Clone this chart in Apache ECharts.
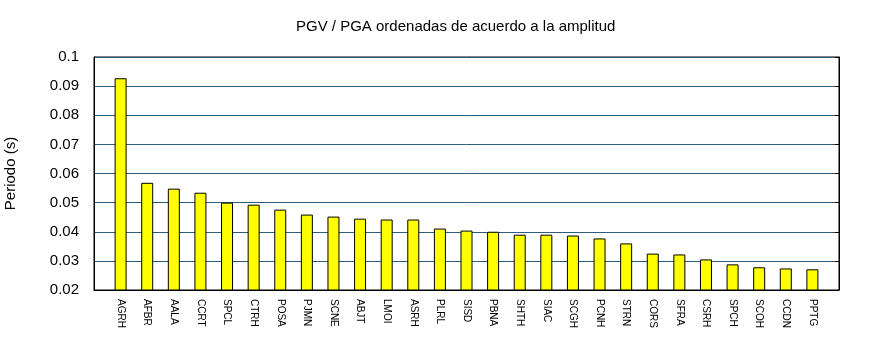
<!DOCTYPE html>
<html>
<head>
<meta charset="utf-8">
<script src="https://cdn.jsdelivr.net/npm/echarts@6/dist/echarts.min.js"></script>
<style>
  html, body { margin: 0; padding: 0; background: #fff; }
  #chart { width: 870px; height: 350px; }
</style>
</head>
<body>
<div id="chart"></div>
<script>
// Stations, ordered by amplitude
const stations = ['AGRH','AFBR','AALA','CCRT','SPCL','CTRH','POSA','PJMN','SCNE','ABJT',
  'LMOI','ASRH','PLRL','SISD','PBNA','SHTH','SIAC','SCGH','PCNH','STRN',
  'CORS','SFRA','CSRH','SPCH','SCOH','CCDN','PPTG'];

// PGV / PGA period (s)
const periods = [0.0927,0.0568,0.0548,0.0534,0.0500,0.0493,0.0476,0.0459,0.0452,0.0445,
  0.0442,0.0442,0.0411,0.0404,0.0400,0.0390,0.0390,0.0387,0.0377,0.0360,
  0.0325,0.0322,0.0305,0.0288,0.0278,0.0274,0.0271];

// Y axis scale
const yMin = 0.02, yMax = 0.1, yStep = 0.01;

const font = 'Liberation Sans, Arial, sans-serif';
const chart = echarts.init(document.getElementById('chart'), null, { renderer: 'canvas' });

// Stations sit on whole-number slots 1..N of a 0..N+1 axis
const barData = stations.map((s, i) => [i + 1, periods[i]]);

chart.setOption({
  animation: false,
  backgroundColor: '#fff',
  title: {
    text: 'PGV / PGA ordenadas de acuerdo a la amplitud',
    left: 291,
    top: 14,
    textStyle: { fontFamily: font, fontSize: 15, fontWeight: 'normal', color: '#000' }
  },
  grid: {
    left: 94, right: 31, top: 57, bottom: 60,
    outerBoundsMode: 'none',
    containLabel: false,
    show: true, borderColor: '#000', borderWidth: 1, backgroundColor: 'transparent'
  },
  xAxis: {
    type: 'value',
    min: 0,
    max: stations.length + 1,
    interval: 1,
    axisLine: { show: true, lineStyle: { color: '#000', width: 1 } },
    axisTick: { show: false },
    splitLine: { show: false },
    axisLabel: {
      rotate: -90,
      margin: 9,
      fontFamily: font,
      fontSize: 10,
      color: '#000',
      formatter: v => stations[v - 1] || ''
    }
  },
  yAxis: [{
    type: 'value',
    min: yMin, max: yMax, interval: yStep,
    name: 'Periodo (s)',
    nameLocation: 'middle',
    nameGap: 76,
    nameTextStyle: { fontFamily: font, fontSize: 15, color: '#000' },
    axisLine: { show: true, lineStyle: { color: '#000' } },
    axisTick: { show: false },
    axisLabel: {
      margin: 15,
      fontFamily: font, fontSize: 15, color: '#000',
      formatter: v => String(+v.toFixed(2))
    },
    splitLine: { show: true, lineStyle: { color: '#2f5b7c', width: 1 } }
  }, {
    type: 'value',
    position: 'right',
    min: yMin, max: yMax, interval: yStep,
    axisLine: { show: true, lineStyle: { color: '#000' } },
    axisTick: { show: true, inside: true, length: 4, lineStyle: { color: '#000' } },
    axisLabel: { show: false },
    splitLine: { show: false }
  }],
  series: [{
    type: 'bar',
    data: barData,
    barWidth: 12,
    itemStyle: { color: '#ffff00', borderColor: '#000', borderWidth: 1 }
  }]
});
</script>
</body>
</html>
